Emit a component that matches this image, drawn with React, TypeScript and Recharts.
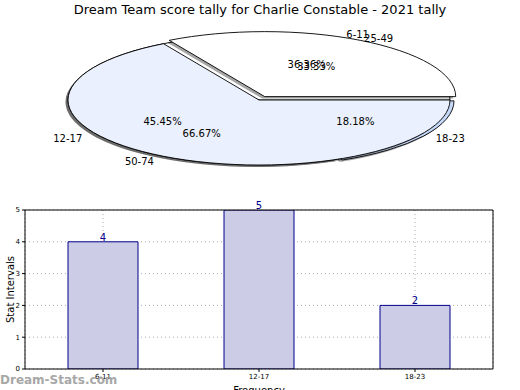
import React from "react"
import {
  PieChart,
  Pie,
  Cell,
  BarChart,
  Bar,
  XAxis,
  YAxis,
  CartesianGrid,
  LabelList,
  Label,
} from "recharts"

const innerNames = ["6-11", "12-17", "18-23"]
const innerValues = [4, 5, 2]
const innerColors = ["#ffffff", "#eaf0fd", "#c6d8f7"]

const outerNames = ["25-49", "50-74"]
const outerValues = [1, 2]
const outerColors = ["#ffffff", "#eaf0fd"]

const barCategories = ["6-11", "12-17", "18-23"]
const barValues = [4, 5, 2]
const yTicks = [0, 1, 2, 3, 4, 5]

const FONT = "'DejaVu Sans', sans-serif"
const SQUASH = 65 / 191
const RAD = Math.PI / 180

// how far a wedge is pulled out, as a share of the radius
const explode: Record<string, number> = { "25-49": 0.06, "18-23": 0.025 }

const pt = (cx: number, cy: number, rx: number, a: number) => [
  cx + rx * Math.cos(a * RAD),
  cy - rx * SQUASH * Math.sin(a * RAD),
]

function wedgePath(cx: number, cy: number, r: number, a0: number, a1: number) {
  const [x0, y0] = pt(cx, cy, r, a0)
  const [x1, y1] = pt(cx, cy, r, a1)
  const large = a1 - a0 > 180 ? 1 : 0
  return `M${cx},${cy} L${x0},${y0} A${r},${r * SQUASH} 0 ${large} 0 ${x1},${y1} Z`
}

function EllipseWedge(props: any) {
  const { cx, cy, outerRadius, fill } = props
  const a0 = Math.min(props.startAngle, props.endAngle)
  const a1 = Math.max(props.startAngle, props.endAngle)
  const name = props.payload?.name ?? props.name
  const e = explode[name] || 0
  const mid = (a0 + a1) / 2
  const ox = e * outerRadius * Math.cos(mid * RAD)
  const oy = -e * outerRadius * SQUASH * Math.sin(mid * RAD)
  const d = wedgePath(cx + ox, cy + oy, outerRadius, a0, a1)
  return (
    <g>
      <path d={d} transform="translate(-2.5,2)" fill="#000" fillOpacity={0.35} stroke="none" />
      <path d={d} fill={fill} stroke="#000" strokeWidth={0.9} />
    </g>
  )
}

function PieLabel(props: any) {
  const { cx, cy, outerRadius, midAngle, percent, name } = props
  const [px, py] = pt(cx, cy, outerRadius * 0.6, midAngle)
  const [nx, ny] = pt(cx, cy, outerRadius * 1.1, midAngle)
  const right = Math.cos(midAngle * RAD) >= 0
  return (
    <g fontFamily={FONT} fontSize={10} fill="#000">
      <text x={px} y={py} textAnchor="middle" dominantBaseline="central" fill="#000">
        {(percent * 100).toFixed(2)}%
      </text>
      <text x={nx} y={ny} textAnchor={right ? "start" : "end"} dominantBaseline="central" fill="#000">
        {name}
      </text>
    </g>
  )
}

export default function App() {
  const innerData = innerNames.map((name, i) => ({ name, value: innerValues[i] }))
  const outerData = outerNames.map((name, i) => ({ name, value: outerValues[i] }))
  const barData = barCategories.map((name, i) => ({ name, value: barValues[i] }))

  return (
    <div style={{ position: "fixed", left: 0, top: 0, width: 520, height: 390, background: "#fff", overflow: "hidden" }}>
      <div
        style={{
          position: "absolute",
          top: 2,
          left: 0,
          width: 520,
          textAlign: "center",
          fontFamily: FONT,
          fontSize: 13,
          color: "#000",
        }}
      >
        Dream Team score tally for Charlie Constable - 2021 tally
      </div>

      <div style={{ position: "absolute", top: 0, left: 0 }}>
        <PieChart width={520} height={200} margin={{ top: 0, right: 0, bottom: 0, left: 0 }}>
          <Pie
            data={innerData}
            dataKey="value"
            nameKey="name"
            cx={259}
            cy={100}
            outerRadius={191}
            startAngle={0}
            endAngle={360}
            isAnimationActive={false}
            labelLine={false}
            label={PieLabel}
            shape={EllipseWedge}
            activeShape={EllipseWedge}
            inactiveShape={EllipseWedge}
          >
            {innerData.map((d, i) => (
              <Cell key={d.name} fill={innerColors[i]} />
            ))}
          </Pie>
          <Pie
            data={outerData}
            dataKey="value"
            nameKey="name"
            cx={259}
            cy={100}
            outerRadius={191}
            startAngle={0}
            endAngle={360}
            isAnimationActive={false}
            labelLine={false}
            label={PieLabel}
            shape={EllipseWedge}
            activeShape={EllipseWedge}
            inactiveShape={EllipseWedge}
          >
            {outerData.map((d, i) => (
              <Cell key={d.name} fill={outerColors[i]} />
            ))}
          </Pie>
        </PieChart>
      </div>

      <div style={{ position: "absolute", top: 200, left: 0 }}>
        <BarChart
          width={520}
          height={199}
          data={barData}
          margin={{ top: 9, right: 26, left: 0, bottom: 0 }}
          barCategoryGap={0}
        >
          <CartesianGrid stroke="#aaa" strokeDasharray="1 3" />
          <XAxis
            dataKey="name"
            height={30}
            tick={{ fontSize: 7, fill: "#000", fontFamily: FONT }}
            tickSize={3}
            tickLine={{ stroke: "#000" }}
            axisLine={{ stroke: "#000" }}
            interval={0}
          >
            <Label value="Frequency" position="insideBottom" offset={5} style={{ fontSize: 10, fill: "#000", fontFamily: FONT }} />
          </XAxis>
          <XAxis xAxisId="top" dataKey="name" orientation="top" height={1} tick={false} tickLine={false} axisLine={{ stroke: "#000" }} />
          <YAxis
            width={25}
            domain={[0, 5]}
            ticks={yTicks}
            tick={{ fontSize: 7, fill: "#000", fontFamily: FONT }}
            tickSize={3}
            tickLine={{ stroke: "#000" }}
            axisLine={{ stroke: "#000" }}
            allowDataOverflow
          >
            <Label
              content={(p: any) => {
                const vb = p.viewBox
                const y = vb.y + vb.height / 2
                return (
                  <text x={10} y={y} transform={`rotate(-90 10 ${y})`} textAnchor="middle" dominantBaseline="central" fontSize={10} fontFamily={FONT} fill="#000">
                    Stat Intervals
                  </text>
                )
              }}
            />
          </YAxis>
          <YAxis yAxisId="right" orientation="right" width={1} domain={[0, 5]} tick={false} tickLine={false} axisLine={{ stroke: "#000" }} />
          <Bar dataKey="value" barSize={70} fill="#cccce6" stroke="#00008b" strokeWidth={1} isAnimationActive={false}>
            <LabelList dataKey="value" position="top" offset={1} style={{ fontSize: 10, fill: "#00008b", fontFamily: FONT }} />
          </Bar>
        </BarChart>
      </div>

      <div
        style={{
          position: "absolute",
          left: 0,
          top: 373,
          fontFamily: FONT,
          fontSize: 12,
          fontWeight: "bold",
          color: "#999",
          opacity: 0.85,
        }}
      >
        Dream-Stats.com
      </div>
    </div>
  )
}
